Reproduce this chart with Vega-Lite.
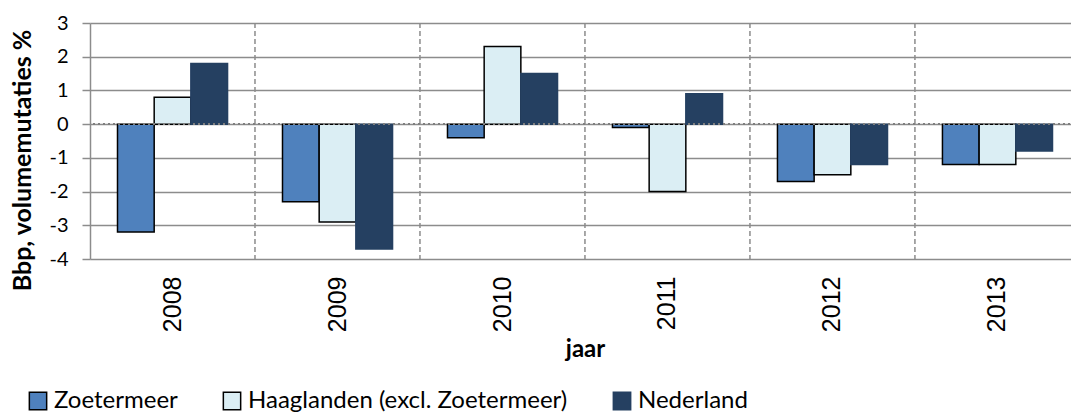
{
  "$schema": "https://vega.github.io/schema/vega-lite/v6.json",
  "width": 990,
  "height": 236,
  "autosize": "none",
  "padding": {"left": 90, "top": 23, "right": 0, "bottom": 153},
  "config": {"font": "Lato", "view": {"stroke": null}},
  "data": {
    "values": [
      {"jaar": "2008", "reeks": "Zoetermeer", "waarde": -3.2},
      {"jaar": "2008", "reeks": "Haaglanden (excl. Zoetermeer)", "waarde": 0.8},
      {"jaar": "2008", "reeks": "Nederland", "waarde": 1.8},
      {"jaar": "2009", "reeks": "Zoetermeer", "waarde": -2.3},
      {"jaar": "2009", "reeks": "Haaglanden (excl. Zoetermeer)", "waarde": -2.9},
      {"jaar": "2009", "reeks": "Nederland", "waarde": -3.7},
      {"jaar": "2010", "reeks": "Zoetermeer", "waarde": -0.4},
      {"jaar": "2010", "reeks": "Haaglanden (excl. Zoetermeer)", "waarde": 2.3},
      {"jaar": "2010", "reeks": "Nederland", "waarde": 1.5},
      {"jaar": "2011", "reeks": "Zoetermeer", "waarde": -0.1},
      {"jaar": "2011", "reeks": "Haaglanden (excl. Zoetermeer)", "waarde": -2.0},
      {"jaar": "2011", "reeks": "Nederland", "waarde": 0.9},
      {"jaar": "2012", "reeks": "Zoetermeer", "waarde": -1.7},
      {"jaar": "2012", "reeks": "Haaglanden (excl. Zoetermeer)", "waarde": -1.5},
      {"jaar": "2012", "reeks": "Nederland", "waarde": -1.2},
      {"jaar": "2013", "reeks": "Zoetermeer", "waarde": -1.2},
      {"jaar": "2013", "reeks": "Haaglanden (excl. Zoetermeer)", "waarde": -1.2},
      {"jaar": "2013", "reeks": "Nederland", "waarde": -0.8}
    ]
  },
  "layer": [
    {
      "transform": [{"filter": "datum.reeks === 'Zoetermeer' && datum.jaar !== '2008'"}],
      "mark": {"type": "rule", "strokeDash": [5, 3], "color": "#8c8c8c", "strokeWidth": 1.5},
      "encoding": {
        "x": {
          "field": "jaar", "type": "nominal", "title": "jaar", "bandPosition": -0.25,
          "scale": {"paddingInner": 0.333, "paddingOuter": 0.1667},
          "axis": {
            "labelAngle": -90, "labelFont": "Liberation Sans", "labelFontSize": 25, "labelColor": "black", "labelPadding": 17,
            "titleFontSize": 24, "titleFontWeight": "bold", "titleColor": "black", "titlePadding": 6,
            "grid": false, "ticks": false, "domain": false
          }
        }
      }
    },
    {
      "mark": {"type": "bar", "strokeWidth": 1.5},
      "encoding": {
        "x": {
          "field": "jaar", "type": "nominal", "title": "jaar",
          "scale": {"paddingInner": 0.333, "paddingOuter": 0.1667},
          "axis": {
            "labelAngle": -90, "labelFont": "Liberation Sans", "labelFontSize": 25, "labelColor": "black", "labelPadding": 17,
            "titleFontSize": 24, "titleFontWeight": "bold", "titleColor": "black", "titlePadding": 6,
            "grid": false, "ticks": false, "domain": false
          }
        },
        "xOffset": {"field": "reeks", "type": "nominal", "sort": ["Zoetermeer", "Haaglanden (excl. Zoetermeer)", "Nederland"], "scale": {"paddingInner": 0, "paddingOuter": 0}},
        "y": {
          "field": "waarde", "type": "quantitative",
          "scale": {"domain": [-4, 3], "nice": false},
          "axis": {
            "values": [-4, -3, -2, -1, 0, 1, 2, 3], "tickCount": 8, "labelOverlap": false, "title": "Bbp, volumemutaties %",
            "labelExpr": "datum.value < 0 ? '-' + (-datum.value) : '' + datum.value",
            "labelFontSize": 20, "labelColor": "black", "labelPadding": 14,
            "titleFontSize": 25, "titleFontWeight": "bold", "titleColor": "black", "titlePadding": 13, "titleY": 137,
            "gridColor": "#8c8c8c", "gridWidth": 1.5, "tickColor": "#8c8c8c", "tickWidth": 1.5, "tickSize": 8,
            "domainColor": "#8c8c8c", "domainWidth": 1.5
          }
        },
        "color": {
          "field": "reeks", "type": "nominal",
          "scale": {"domain": ["Zoetermeer", "Haaglanden (excl. Zoetermeer)", "Nederland"], "range": ["#4f81bd", "#dbeef4", "#254061"]},
          "legend": {
            "title": null, "orient": "none", "legendX": -64, "legendY": 366, "direction": "horizontal", "padding": 0,
            "columns": 3, "columnPadding": 42, "symbolType": "square", "symbolSize": 300, "symbolStrokeWidth": 1.5,
            "labelFontSize": 24, "labelColor": "black", "labelOffset": 4, "labelLimit": 500
          }
        },
        "stroke": {
          "field": "reeks", "type": "nominal",
          "scale": {"domain": ["Zoetermeer", "Haaglanden (excl. Zoetermeer)", "Nederland"], "range": ["black", "black", "#254061"]},
          "legend": null
        }
      }
    },
    {
      "mark": {"type": "rule", "strokeDash": [2, 3], "color": "#7f7f7f", "strokeWidth": 1.5},
      "encoding": {
        "y": {
          "datum": 0, "type": "quantitative",
          "axis": {
            "values": [-4, -3, -2, -1, 0, 1, 2, 3], "tickCount": 8, "labelOverlap": false, "title": "Bbp, volumemutaties %",
            "labelExpr": "datum.value < 0 ? '-' + (-datum.value) : '' + datum.value",
            "labelFontSize": 20, "labelColor": "black", "labelPadding": 14,
            "titleFontSize": 25, "titleFontWeight": "bold", "titleColor": "black", "titlePadding": 13, "titleY": 137,
            "gridColor": "#8c8c8c", "gridWidth": 1.5, "tickColor": "#8c8c8c", "tickWidth": 1.5, "tickSize": 8,
            "domainColor": "#8c8c8c", "domainWidth": 1.5
          }
        }
      }
    }
  ]
}
